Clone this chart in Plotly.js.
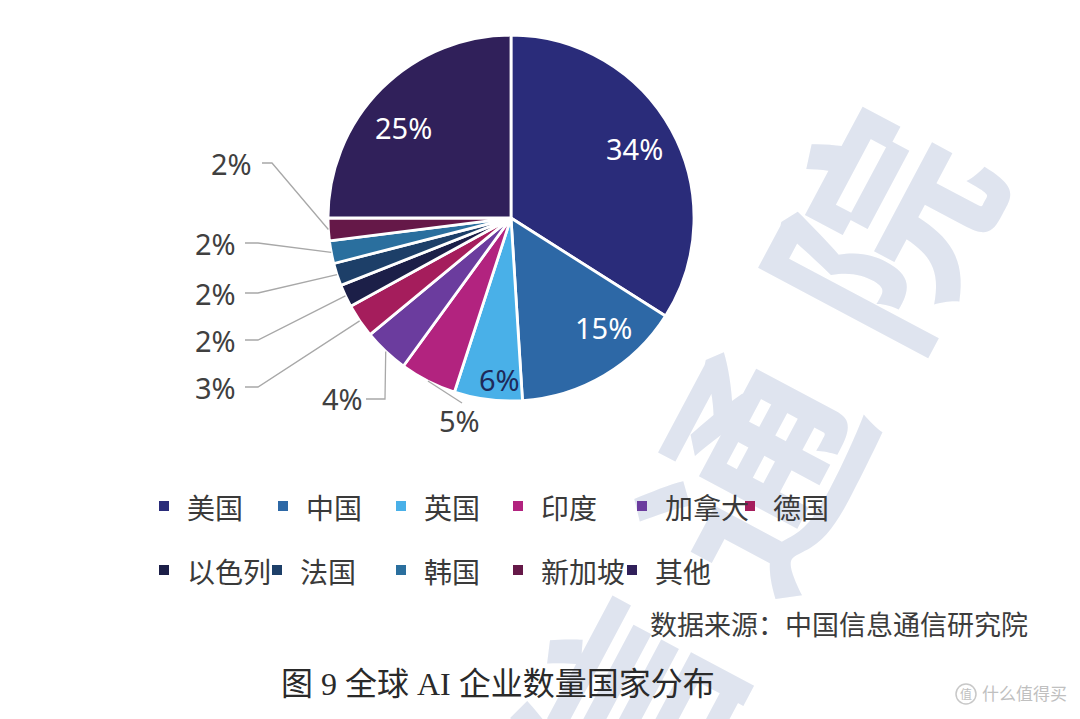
<!DOCTYPE html>
<html><head><meta charset="utf-8">
<script src="https://cdn.plot.ly/plotly-3.0.1.min.js"></script>
<style>html,body{margin:0;padding:0;background:#fff;}#chart{width:1080px;height:719px;}</style>
</head><body><div id="chart"></div>
<script>
// ---- data ----
const countries = ['美国','中国','英国','印度','加拿大','德国','以色列','法国','韩国','新加坡','其他'];
const shares = [34, 15, 6, 5, 4, 3, 2, 2, 2, 2, 25];
const colors = ['#2a2c7a','#2d68a6','#49b0e8','#b2237f','#6b3c9e','#a51d5c','#1c1f48','#1d3f68','#2a6f9e','#651848','#30205a'];
const sourceText = '数据来源：中国信息通信研究院';
const captionText = '图 9 全球 AI 企业数量国家分布';

// ---- layout geometry (pixels) ----
const W = 1080, H = 719;
const CX = 511, CY = 218, R = 183;
const px = x => x / W;
const py = y => 1 - y / H;

// label placement (px)
const insideLabelPos = {
  '美国': {x:634, y:148, color:'#ffffff'},
  '中国': {x:603, y:328, color:'#ffffff'},
  '英国': {x:499, y:379, color:'#1e2a5a'},
  '其他': {x:403, y:128, color:'#ffffff'}
};
const outsideLabelPos = {
  '印度':  {x:459, y:420, lx:462, ly:403, elbow:null},
  '加拿大':{x:342, y:398, lx:366, ly:399, elbow:[385,399]},
  '德国':  {x:215, y:387, lx:245, ly:387, elbow:[258,387]},
  '以色列':{x:215, y:340, lx:245, ly:340, elbow:[258,340]},
  '法国':  {x:215, y:293, lx:245, ly:293, elbow:[258,293]},
  '韩国':  {x:215, y:243, lx:245, ly:243, elbow:[258,243]},
  '新加坡':{x:231, y:163, lx:262, ly:163, elbow:[272,163]}
};
// legend slots: [square-left x, row center y]
const legendSlots = [[159,506],[278,506],[396,506],[513,506],[637,506],[745,506],
                     [159,570],[272,570],[396,570],[513,570],[627,570]];

const pctFont = {family:'Noto Sans, Open Sans, sans-serif', size:29};
const total = shares.reduce((a,b)=>a+b,0);
let cum = 0;
const shapes = [], annotations = [];
shares.forEach((v,i) => {
  const mid = (cum + v/2) / total * 2 * Math.PI;
  cum += v;
  const name = countries[i];
  const ins = insideLabelPos[name];
  if (ins) {
    annotations.push({xref:'paper', yref:'paper', x:px(ins.x), y:py(ins.y), text: v + '%', showarrow:false,
      xanchor:'center', yanchor:'middle', font:Object.assign({}, pctFont, {color: ins.color})});
  }
  const pos = outsideLabelPos[name];
  if (pos) {
    const ex = CX + R * Math.sin(mid), ey = CY - R * Math.cos(mid);
    let path = `M${px(pos.lx)},${py(pos.ly)}`;
    if (pos.elbow) path += ` L${px(pos.elbow[0])},${py(pos.elbow[1])}`;
    path += ` L${px(ex)},${py(ey)}`;
    shapes.push({type:'path', xref:'paper', yref:'paper', path:path, line:{color:'#a8a8a8', width:1.3}});
    annotations.push({xref:'paper', yref:'paper', x:px(pos.x), y:py(pos.y), text: v + '%', showarrow:false,
      xanchor:'center', yanchor:'middle', font:Object.assign({}, pctFont, {color:'#404040'})});
  }
});

// legend (drawn from categories & colors)
countries.forEach((c,i) => {
  const [sx, sy] = legendSlots[i];
  shapes.push({type:'rect', xref:'paper', yref:'paper', x0:px(sx), x1:px(sx+10), y0:py(sy+5), y1:py(sy-5),
    fillcolor: colors[i], line:{width:0}});
  annotations.push({xref:'paper', yref:'paper', x:px(sx+26), y:py(sy+1), xanchor:'left', yanchor:'middle', showarrow:false,
    text: c, font:{family:'Noto Sans CJK SC, sans-serif', size:28, color:'#3a3a3a'}});
});

annotations.push({xref:'paper', yref:'paper', x:px(1030), y:py(623), xanchor:'right', yanchor:'middle', showarrow:false,
  text: sourceText, font:{family:'Noto Sans CJK SC, sans-serif', size:27, color:'#3c3c3c'}});
annotations.push({xref:'paper', yref:'paper', x:px(498), y:py(684), xanchor:'center', yanchor:'middle', showarrow:false,
  text: captionText, font:{family:'Liberation Serif, Noto Sans CJK SC, serif', size:32, color:'#2a2a2a'}});

// faint background watermark (behind the chart)
const wmSvg = `<svg xmlns="http://www.w3.org/2000/svg" width="${W}" height="${H}" viewBox="0 0 ${W} ${H}">` +
  `<text x="758" y="440" transform="rotate(-62 758 440)" text-anchor="middle" dominant-baseline="central" letter-spacing="60" ` +
  `font-family="Noto Sans CJK SC" font-weight="700" font-size="215" fill="#dfe4ef">信通院</text>` +
  `<circle cx="966" cy="694" r="10" fill="none" stroke="#c8c8c8" stroke-width="1.5"/>` +
  `<text x="966" y="699" text-anchor="middle" font-family="Noto Sans CJK SC" font-size="12" fill="#c0c0c0">值</text>` +
  `<text x="982" y="700" font-family="Noto Sans CJK SC" font-size="17" fill="#c0c0c0">什么值得买</text></svg>`;
const wmSrc = 'data:image/svg+xml;charset=utf-8,' + encodeURIComponent(wmSvg);

const trace = {
  type:'pie', labels: countries, values: shares, sort:false, direction:'clockwise', rotation:0,
  marker:{colors: colors, line:{color:'#ffffff', width:2.8}},
  textinfo:'none', hoverinfo:'label+percent',
  domain:{x:[px(CX-R), px(CX+R)], y:[py(CY+R), py(CY-R)]}
};

const layout = {
  width: W, height: H, margin:{l:0, r:0, t:0, b:0},
  paper_bgcolor:'#ffffff', plot_bgcolor:'#ffffff',
  showlegend:false,
  images:[{source: wmSrc, xref:'paper', yref:'paper', x:0, y:1, sizex:1, sizey:1,
    xanchor:'left', yanchor:'top', sizing:'stretch', layer:'below'}],
  shapes: shapes, annotations: annotations
};

Plotly.newPlot('chart', [trace], layout, {displayModeBar:false, staticPlot:true});
</script></body></html>
